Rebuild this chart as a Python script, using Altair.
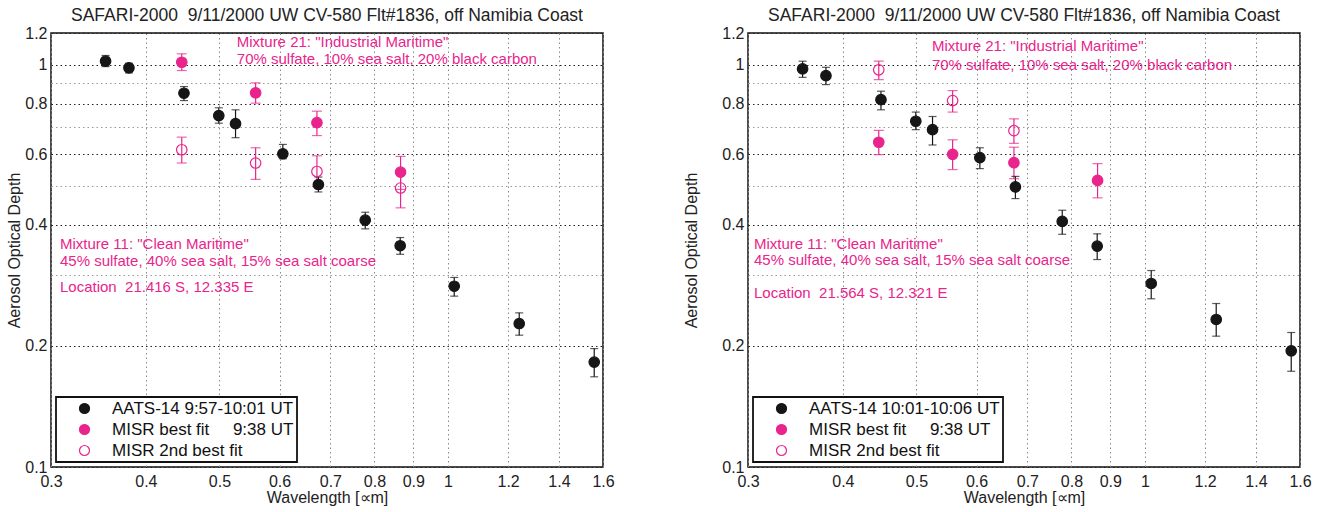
import altair as alt
import pandas as pd

FONT = "Liberation Sans, Arial, Helvetica, sans-serif"
PINK = "#e9248c"
BLACK = "#161616"

TITLE = "SAFARI-2000\u00a0 9/11/2000 UW CV-580 Flt#1836, off Namibia Coast"

aats_wl = [0.354, 0.380, 0.449, 0.499, 0.525, 0.606, 0.675, 0.778, 0.865, 1.019, 1.241, 1.558]
misr_wl = [0.446, 0.558, 0.672, 0.866]

x_ticks = [0.3, 0.4, 0.5, 0.6, 0.7, 0.8, 0.9, 1, 1.2, 1.4, 1.6]
y_ticks = [0.1, 0.2, 0.3, 0.4, 0.5, 0.6, 0.7, 0.8, 0.9, 1, 1.2]
y_labeled = [0.1, 0.2, 0.4, 0.6, 0.8, 1, 1.2]

# ---- left panel values ----
L_aats = [1.021, 0.983, 0.850, 0.748, 0.714, 0.601, 0.504, 0.411, 0.355, 0.2815, 0.2274, 0.1823]
L_aats_lo = [0.990, 0.955, 0.815, 0.716, 0.659, 0.584, 0.483, 0.391, 0.338, 0.266, 0.2127, 0.1676]
L_aats_hi = [1.055, 1.009, 0.883, 0.782, 0.773, 0.634, 0.526, 0.430, 0.372, 0.296, 0.2417, 0.197]
L_best = [1.015, 0.852, 0.718, 0.541]
L_best_lo = [0.968, 0.803, 0.667, 0.490]
L_best_hi = [1.065, 0.902, 0.767, 0.592]
L_2nd = [0.615, 0.570, 0.543, 0.494]
L_2nd_lo = [0.570, 0.519, 0.499, 0.441]
L_2nd_hi = [0.661, 0.622, 0.594, 0.547]
L_series = ["AATS-14 9:57-10:01 UT", "MISR best fit\u00a0\u00a0\u00a0\u00a0 9:38 UT", "MISR 2nd best fit"]
L_ann_x = [0.527, 0.527, 0.3083, 0.3083, 0.3083]
L_ann_y = [1.138, 1.035, 0.358, 0.3248, 0.280]
L_ann_t = ['Mixture 21: "Industrial Maritime"', "70% sulfate, 10% sea salt, 20% black carbon",
           'Mixture 11: "Clean Maritime"', "45% sulfate, 40% sea salt, 15% sea salt coarse",
           "Location\u00a0 21.416 S, 12.335 E"]

# ---- right panel values ----
R_aats = [0.977, 0.940, 0.819, 0.724, 0.690, 0.588, 0.497, 0.408, 0.354, 0.286, 0.2327, 0.1945]
R_aats_lo = [0.931, 0.893, 0.773, 0.690, 0.632, 0.552, 0.465, 0.379, 0.328, 0.262, 0.2115, 0.173]
R_aats_hi = [1.021, 0.986, 0.860, 0.763, 0.744, 0.622, 0.528, 0.435, 0.380, 0.308, 0.255, 0.216]
R_best = [0.642, 0.599, 0.571, 0.516]
R_best_lo = [0.598, 0.549, 0.521, 0.467]
R_best_hi = [0.687, 0.651, 0.624, 0.568]
R_2nd_wl = [0.446, 0.558, 0.672]
R_2nd = [0.972, 0.815, 0.686]
R_2nd_lo = [0.919, 0.763, 0.638]
R_2nd_hi = [1.021, 0.863, 0.734]
R_series = ["AATS-14 10:01-10:06 UT", "MISR best fit\u00a0\u00a0\u00a0\u00a0 9:38 UT", "MISR 2nd best fit"]
R_ann_x = [0.524, 0.524, 0.3055, 0.3055, 0.3055]
R_ann_y = [1.115, 1.0016, 0.358, 0.3266, 0.2705]
R_ann_t = ['Mixture 21: "Industrial Maritime"', "70% sulfate, 10% sea salt, 20% black carbon",
           'Mixture 11: "Clean Maritime"', "45% sulfate, 40% sea salt, 15% sea salt coarse",
           "Location\u00a0 21.564 S, 12.321 E"]


def build_df(series, groups):
    rows = []
    for name, ecol, cap, (wl, v, lo, hi) in zip(series, [BLACK, PINK, PINK], [8, 10, 10], groups):
        for a, b, c, d in zip(wl, v, lo, hi):
            rows.append({"wl": a, "v": b, "lo": c, "hi": d, "series": name, "ecol": ecol, "cap": cap})
    return pd.DataFrame(rows)


labeled_test = "indexof([0.1,0.2,0.4,0.6,0.8,1,1.2], datum.value) >= 0"


def panel(series, groups, ann_x, ann_y, ann_t, ytitle_pad):
    df = build_df(series, groups)
    ann = pd.DataFrame({"x": ann_x, "y": ann_y, "t": ann_t})
    xs = alt.Scale(type="log", domain=[0.3, 1.6], nice=False)
    ys = alt.Scale(type="log", domain=[0.1, 1.2], nice=False)
    xaxis = alt.Axis(values=x_ticks, format="~g", title="Wavelength [\u221dm]", grid=True,
                     gridDash=[1.5, 3], gridColor="#8a8a8a", gridWidth=1, ticks=False, domain=False,
                     labelFlush=False, labelOverlap=False, labelBound=False, labelPadding=6,
                     titlePadding=0)
    yaxis = alt.Axis(values=y_ticks, format="~g", title="Aerosol Optical Depth", grid=True,
                     gridDash=[1.5, 3], gridWidth=1,
                     gridColor={"condition": {"test": labeled_test, "value": "#222222"}, "value": "#9a9a9a"},
                     labelExpr=f"{labeled_test} ? datum.label : ''",
                     ticks=False, domain=False, labelFlush=False, labelOverlap=False, labelBound=False,
                     labelPadding=4, titlePadding=ytitle_pad)
    base = alt.Chart(df)
    rules = base.mark_rule(strokeWidth=1.2).encode(
        x=alt.X("wl:Q", scale=xs, axis=xaxis),
        y=alt.Y("lo:Q", scale=ys, axis=yaxis),
        y2="hi:Q",
        color=alt.Color("ecol:N", scale=None),
    )
    cap_lo = base.mark_tick(orient="horizontal", thickness=1.2).encode(
        x="wl:Q", y="lo:Q", color=alt.Color("ecol:N", scale=None), size=alt.Size("cap:Q", scale=None))
    cap_hi = base.mark_tick(orient="horizontal", thickness=1.2).encode(
        x="wl:Q", y="hi:Q", color=alt.Color("ecol:N", scale=None), size=alt.Size("cap:Q", scale=None))
    legend = alt.Legend(title=None, orient="bottom-left", offset=5, symbolType="circle")
    pts = base.mark_point(shape="circle", size=110, strokeWidth=1.2, opacity=1, fillOpacity=1).encode(
        x="wl:Q", y="v:Q",
        fill=alt.Fill("series:N", scale=alt.Scale(domain=series, range=[BLACK, PINK, "transparent"]),
                      legend=legend),
        stroke=alt.Stroke("series:N", scale=alt.Scale(domain=series, range=[BLACK, PINK, PINK]),
                          legend=legend),
    )
    txt = alt.Chart(ann).mark_text(align="left", baseline="middle", color=PINK, fontSize=15,
                                   font=FONT).encode(x="x:Q", y="y:Q", text="t:N")
    return alt.layer(rules, cap_lo, cap_hi, txt, pts).properties(
        width=552, height=434,
        title=alt.TitleParams(TITLE, fontSize=17.5, font=FONT, fontWeight="normal", color="#222222",
                              anchor="middle", offset=1),
    )


left = panel(L_series, [(aats_wl, L_aats, L_aats_lo, L_aats_hi), (misr_wl, L_best, L_best_lo, L_best_hi),
                        (misr_wl, L_2nd, L_2nd_lo, L_2nd_hi)], L_ann_x, L_ann_y, L_ann_t, 2)
right = panel(R_series, [(aats_wl, R_aats, R_aats_lo, R_aats_hi), (misr_wl, R_best, R_best_lo, R_best_hi),
                         (R_2nd_wl, R_2nd, R_2nd_lo, R_2nd_hi)], R_ann_x, R_ann_y, R_ann_t, 22)

chart = alt.hconcat(left, right, spacing=68).resolve_scale(
    x="independent", y="independent", fill="independent", stroke="independent"
).resolve_legend(fill="independent", stroke="independent").properties(
    padding={"left": 6, "top": 5, "right": 5, "bottom": 5}
).configure(font=FONT).configure_view(stroke="#111111", strokeWidth=1.5).configure_axis(
    labelFont=FONT, titleFont=FONT, labelFontSize=16, titleFontSize=16, titleFontWeight="normal",
    labelColor="#222222", titleColor="#222222"
).configure_legend(
    strokeColor="#111111", strokeWidth=1.8, fillColor="white", padding=3, symbolOffset=17, labelOffset=19,
    labelFontSize=17, labelFont=FONT, labelColor="#111111", rowPadding=3, symbolSize=100,
    symbolStrokeWidth=1.2, labelLimit=400
)

chart.save("out.html", embed_options={"renderer": "svg", "actions": False})
